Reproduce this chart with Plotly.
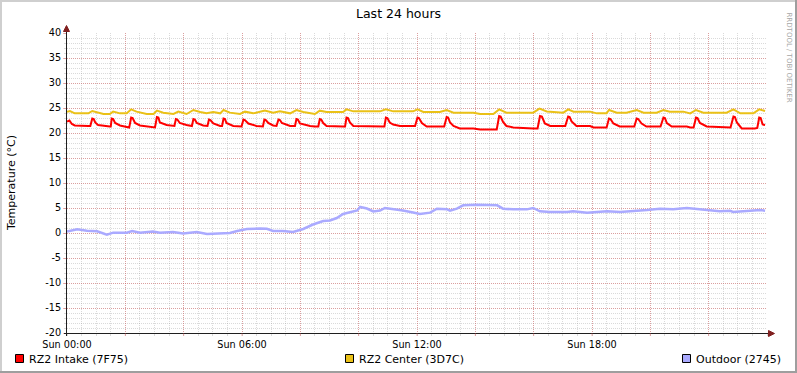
import plotly.graph_objects as go

# ---------------- data (minutes since Sun 00:00, °C) ----------------
intake_t = [0, 5, 10, 16, 44, 48, 52, 55, 58, 64, 88, 90, 92, 95, 99, 109, 128, 132, 135, 140, 150, 181, 185, 188,
            191, 205, 221, 224, 227, 232, 246, 257, 260, 263, 267, 280, 289, 292, 295, 301, 315, 319, 322, 325, 328, 342,
            359, 363, 366, 373, 390, 403, 406, 409, 414, 424, 431, 435, 438, 442, 459, 469, 472, 475, 479, 493, 500, 510,
            517, 520, 523, 527, 534, 568, 572, 575, 578, 582, 589, 651, 653, 656, 659, 664, 671, 685, 716, 721, 724, 730,
            740, 776, 781, 784, 788, 795, 808, 836, 850, 884, 889, 892, 897, 904, 918, 959, 968, 973, 977, 983,
            994, 1025, 1031, 1034, 1038, 1048, 1076, 1083, 1110, 1115, 1118, 1124, 1137, 1167, 1172, 1175, 1182, 1192,
            1221, 1227, 1230, 1234, 1244, 1275, 1282, 1289, 1294, 1297, 1302, 1316, 1357, 1365, 1371, 1374, 1378, 1388,
            1415, 1420, 1424, 1427, 1431, 1436]
intake_v = [22.3, 22.5, 21.8, 21.5, 21.4, 21.4, 22.9, 22.8, 22.1, 21.6, 21.3, 21.3, 22.9, 22.8, 22.0, 21.5, 21.1, 23.1, 23.0, 22.0, 21.5, 21.1, 23.2, 23.1,
            22.1, 21.6, 21.4, 22.8, 22.7, 22.0, 21.6, 21.4, 22.8, 22.7, 22.0, 21.5, 21.4, 22.7, 22.6, 21.9, 21.4, 21.4, 22.9, 22.8, 22.0, 21.4,
            21.3, 22.7, 22.6, 21.9, 21.4, 21.3, 22.7, 22.6, 22.0, 21.5, 21.4, 22.7, 22.6, 22.0, 21.4, 21.4, 22.8, 22.7, 21.9, 21.5, 21.4, 21.3,
            21.3, 22.8, 22.7, 22.0, 21.4, 21.3, 21.3, 23.1, 23.0, 22.1, 21.4, 21.3, 21.3, 23.1, 23.0, 22.1, 21.7, 21.4, 21.4, 23.1, 23.0, 22.0,
            21.3, 21.3, 23.2, 23.1, 22.1, 21.4, 20.9, 20.9, 20.7, 20.7, 23.4, 23.3, 22.2, 21.4, 21.1, 20.9, 20.9, 23.4, 23.3, 21.9,
            21.4, 21.4, 23.3, 23.2, 22.3, 21.4, 21.4, 21.1, 21.1, 22.9, 22.8, 21.9, 21.3, 21.3, 22.9, 22.8, 21.9, 21.3,
            21.3, 23.1, 23.0, 22.0, 21.3, 21.3, 21.1, 21.1, 23.1, 23.0, 22.0, 21.3, 21.1, 21.1, 23.3, 23.2, 22.1, 20.9,
            20.9, 21.0, 23.1, 23.0, 21.7, 21.6]

center_t = [0, 6, 16, 44, 52, 61, 75, 88, 95, 109, 123, 132, 143, 164, 178, 185, 198, 219, 229, 246,
            260, 274, 287, 301, 315, 322, 335, 356, 366, 383, 407, 424, 438, 459, 472, 486, 500, 510,
            520, 534, 568, 575, 589, 644, 656, 671, 712, 721, 733, 767, 781, 795, 836, 850, 877, 889,
            904, 959, 972, 987, 1021, 1031, 1042, 1076, 1090, 1110, 1115, 1131, 1151, 1172, 1186, 1213,
            1227, 1240, 1268, 1282, 1294, 1309, 1357, 1371, 1385, 1412, 1424, 1436]
center_v = [24.27, 24.4, 23.93, 23.93, 24.4, 24.2, 23.8, 23.8, 24.27, 23.93, 23.93, 24.73, 24.27, 23.8, 23.8, 24.47, 24.07, 23.8, 24.27, 23.8,
            24.6, 24.2, 23.93, 24.2, 23.93, 24.6, 24.07, 23.8, 24.27, 23.93, 24.47, 24.07, 24.33, 23.93, 24.6, 24.2, 23.93, 23.8,
            24.47, 24.2, 24.2, 24.73, 24.33, 24.33, 24.73, 24.33, 24.33, 24.73, 24.2, 24.2, 24.6, 24.07, 24.07, 23.8, 23.8, 24.73,
            24.07, 24.07, 24.87, 24.3, 24.07, 24.73, 24.27, 24.27, 23.93, 23.93, 24.6, 24.07, 24.07, 24.6, 24.07, 24.07,
            24.6, 24.27, 24.27, 23.93, 24.6, 24.07, 24.07, 24.73, 23.93, 23.93, 24.73, 24.4]

outdoor_t = [0, 21, 41, 62, 82, 95, 123, 134, 150, 177, 191, 218, 239, 267, 288, 315, 335, 350, 370, 397,
             411, 424, 444, 465, 486, 506, 527, 541, 555, 568, 582, 597, 603, 617, 630, 644, 654, 671,
             691, 712, 726, 747, 761, 782, 788, 802, 815, 843, 864, 885, 897, 918, 946, 959, 973, 994,
             1029, 1041, 1070, 1097, 1111, 1138, 1164, 1193, 1220, 1247, 1275, 1288, 1317, 1343, 1364,
             1370, 1391, 1411, 1426, 1436]
outdoor_v = [0.27, 0.73, 0.47, 0.33, -0.33, 0.07, 0.07, 0.4, 0.07, 0.3, 0.07, 0.2, -0.1, 0.2, -0.2, 0.0, 0.0, 0.4, 0.8, 0.9,
             0.85, 0.4, 0.4, 0.2, 0.8, 1.7, 2.4, 2.5, 3.0, 3.8, 4.2, 4.5, 5.2, 4.9, 4.3, 4.5, 5.0, 4.8,
             4.5, 4.1, 3.8, 4.07, 4.87, 4.73, 4.47, 4.87, 5.53, 5.67, 5.67, 5.53, 4.87, 4.73, 4.73, 5.0, 4.33, 4.2,
             4.2, 4.33, 4.07, 4.2, 4.33, 4.2, 4.33, 4.6, 4.87, 4.73, 5.0, 4.87, 4.6, 4.33, 4.47,
             4.2, 4.33, 4.47, 4.6, 4.47]

series_names = ["RZ2 Intake (7F75)", "RZ2 Center (3D7C)", "Outdoor (2745)"]
series_colors = ["#FF0000", "#EAC117", "#AAAAFF"]

x_tick_vals = [0, 120, 240, 360, 480, 600, 720, 840, 960, 1080, 1200, 1320, 1440]
x_tick_text = ["Sun 00:00", "", "", "Sun 06:00", "", "", "Sun 12:00", "", "", "Sun 18:00", "", "", ""]
y_tick_vals = [-20, -15, -10, -5, 0, 5, 10, 15, 20, 25, 30, 35, 40]
y_tick_text = ["-20", "-15", "-10", "-5", "0", "5", "10", "15", "20", "25", "30", "35", "40"]

title_text = "Last 24 hours"
y_label = "Temperature (°C)"
watermark = "RRDTOOL / TOBI OETIKER"

# ---------------- layout geometry ----------------
W, H = 797, 373
L, R, T, B = 67, 767, 33, 333
FONT = "DejaVu Sans"

def px(x):
    return (x - L) / (R - L)

def py(y):
    return (B - y) / (B - T)

GRID = "rgba(140,140,140,0.32)"
MGRID = "rgba(222,79,79,0.42)"

fig = go.Figure()
for t, v, c, w in [(intake_t, intake_v, series_colors[0], 2),
                   (center_t, center_v, series_colors[1], 2),
                   (outdoor_t, outdoor_v, series_colors[2], 2.5)]:
    fig.add_trace(go.Scatter(x=t, y=v, mode="lines", line=dict(color=c, width=w),
                             hoverinfo="skip", showlegend=False))

shapes = []
# 3D frame
shapes.append(dict(type="rect", xref="paper", yref="paper", x0=px(0), x1=px(W), y0=py(0), y1=py(2),
                   fillcolor="#CFCFCF", line=dict(width=0), layer="above"))
shapes.append(dict(type="rect", xref="paper", yref="paper", x0=px(0), x1=px(2), y0=py(0), y1=py(H),
                   fillcolor="#CFCFCF", line=dict(width=0), layer="above"))
shapes.append(dict(type="rect", xref="paper", yref="paper", x0=px(W - 2), x1=px(W), y0=py(0), y1=py(H),
                   fillcolor="#9E9E9E", line=dict(width=0), layer="above"))
shapes.append(dict(type="rect", xref="paper", yref="paper", x0=px(0), x1=px(W), y0=py(H - 2), y1=py(H),
                   fillcolor="#9E9E9E", line=dict(width=0), layer="above"))
# axis lines
shapes.append(dict(type="line", xref="paper", yref="paper", x0=px(66.5), x1=px(66.5), y0=py(336), y1=py(29),
                   line=dict(color="#1F1F1F", width=1), layer="above"))
shapes.append(dict(type="line", xref="paper", yref="paper", x0=px(64), x1=px(771), y0=py(333.5), y1=py(333.5),
                   line=dict(color="#1F1F1F", width=1), layer="above"))
# arrows
def path(pts):
    return "M " + " L ".join(f"{px(a):.5f},{py(b):.5f}" for a, b in pts) + " Z"

shapes.append(dict(type="path", xref="paper", yref="paper", path=path([(66.5, 25.5), (63.5, 31.5), (69.5, 31.5)]),
                   fillcolor="#801F1F", line=dict(color="#801F1F", width=1), layer="above"))
shapes.append(dict(type="path", xref="paper", yref="paper", path=path([(774.5, 333.5), (768.5, 330.5), (768.5, 336.5)]),
                   fillcolor="#801F1F", line=dict(color="#801F1F", width=1), layer="above"))

# major x ticks (2 h) below the axis
for tv in x_tick_vals[1:-1]:
    xp = L + tv / 1440 * (R - L)
    shapes.append(dict(type="line", xref="paper", yref="paper", x0=px(xp), x1=px(xp), y0=py(333), y1=py(336),
                       line=dict(color=MGRID, width=1), layer="above"))

annotations = []
# legend boxes and labels
legend_box_x = [15.5, 345.5, 682.5]
for i, (name, col) in enumerate(zip(series_names, series_colors)):
    bx = legend_box_x[i]
    shapes.append(dict(type="rect", xref="paper", yref="paper", x0=px(bx), x1=px(bx + 8),
                       y0=py(354.5), y1=py(362.5), fillcolor=col, line=dict(color="#000000", width=1), layer="above"))
    annotations.append(dict(text=name, xref="paper", yref="paper", x=px(bx + 12.5), y=py(359),
                            xanchor="left", yanchor="middle", showarrow=False, borderpad=0,
                            font=dict(family=FONT, size=11, color="#000000")))

annotations.append(dict(text=title_text, xref="paper", yref="paper", x=px(398.5), y=py(13.5),
                        xanchor="center", yanchor="middle", showarrow=False,
                        font=dict(family=FONT, size=12.5, color="#000000")))
annotations.append(dict(text=y_label, xref="paper", yref="paper", x=px(11), y=py(183),
                        xanchor="center", yanchor="middle", textangle=-90, showarrow=False,
                        font=dict(family=FONT, size=11, color="#000000")))
annotations.append(dict(text=watermark, xref="paper", yref="paper", x=px(788.5), y=py(57),
                        xanchor="center", yanchor="middle", textangle=90, showarrow=False, borderpad=0,
                        font=dict(family=FONT, size=7, color="#A6A6A6")))

fig.update_layout(
    width=W, height=H,
    margin=dict(l=L, r=W - R, t=T, b=H - B, pad=0),
    paper_bgcolor="#FFFFFF", plot_bgcolor="#FFFFFF",
    showlegend=False, hovermode=False,
    font=dict(family=FONT, size=10, color="#000000"),
    shapes=shapes, annotations=annotations,
    xaxis=dict(range=[0, 1440], tickmode="array", tickvals=x_tick_vals, ticktext=x_tick_text,
               showgrid=True, gridcolor=MGRID, griddash="1px,1px", gridwidth=1,
               zeroline=False, showline=False, ticks="outside", ticklen=2, tickcolor="rgba(0,0,0,0)",
               tickfont=dict(family=FONT, size=9.7),
               minor=dict(dtick=30, tick0=0, showgrid=True, gridcolor=GRID, griddash="1px,1px",
                          gridwidth=1, ticks="outside", ticklen=2, tickcolor=GRID),
               fixedrange=True),
    yaxis=dict(range=[-20, 40], tickmode="array", tickvals=y_tick_vals, ticktext=y_tick_text,
               showgrid=True, gridcolor=MGRID, griddash="1px,1px", gridwidth=1,
               zeroline=False, showline=False, ticks="outside", ticklen=3, tickcolor=MGRID,
               tickfont=dict(family=FONT, size=9.7),
               minor=dict(dtick=1, tick0=0, showgrid=True, gridcolor=GRID, griddash="1px,1px",
                          gridwidth=1, ticks="outside", ticklen=2, tickcolor=GRID),
               fixedrange=True),
)

fig.write_html("out.html", config={"displayModeBar": False},
               post_script="document.body.style.margin='0px';document.body.style.padding='0px';")
